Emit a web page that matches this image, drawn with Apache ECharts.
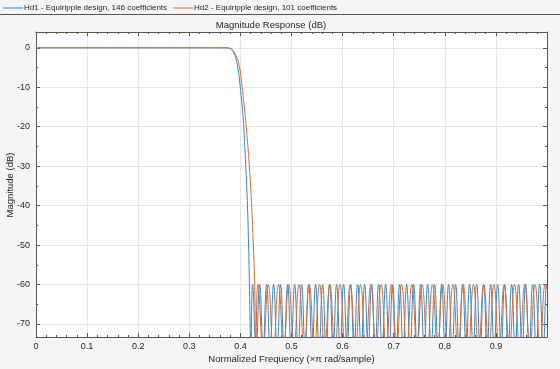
<!DOCTYPE html>
<html><head><meta charset="utf-8">
<script src="https://cdn.jsdelivr.net/npm/echarts@6/dist/echarts.min.js"></script>
<style>html,body{margin:0;padding:0;background:#f5f5f5}#c{width:560px;height:369px}</style>
</head><body><div id="c"></div><script>
const seriesNames = ['Hd1 - Equiripple design, 146 coefficients', 'Hd2 - Equiripple design, 101 coefficients'];
const xTickLabels = ['0','0.1','0.2','0.3','0.4','0.5','0.6','0.7','0.8','0.9'];
const yTickValues = [-70,-60,-50,-40,-30,-20,-10,0];

// Hd1 (146 coefficients): passband + transition
const hd1PassFreq = [0, 0.1, 0.2, 0.3, 0.37, 0.377, 0.382, 0.387, 0.3933, 0.3998, 0.4035, 0.4065, 0.4105, 0.4138, 0.416, 0.4177];
const hd1PassMag  = [0, 0, 0, 0, 0, -0.1, -0.4, -1.3, -3.8, -10, -15, -20, -30, -40, -50, -60];
// Hd1 stopband lobe peaks and nulls
const hd1PeakFreq = [0.4239,0.4376,0.4513,0.4650,0.4787,0.4924,0.5061,0.5198,0.5335,0.5472,0.5609,0.5746,0.5883,0.6020,0.6157,0.6294,0.6431,0.6568,0.6705,0.6842,0.6979,0.7116,0.7253,0.7390,0.7527,0.7664,0.7801,0.7938,0.8075,0.8212,0.8349,0.8486,0.8623,0.8760,0.8897,0.9034,0.9171,0.9308,0.9445,0.9582,0.9719,0.9856,0.9993];
const hd1NullFreq = [0.4205,0.4308,0.4445,0.4582,0.4719,0.4856,0.4993,0.5130,0.5267,0.5404,0.5541,0.5678,0.5815,0.5952,0.6089,0.6226,0.6363,0.6500,0.6637,0.6774,0.6911,0.7048,0.7185,0.7322,0.7459,0.7596,0.7733,0.7870,0.8007,0.8144,0.8281,0.8418,0.8555,0.8692,0.8829,0.8966,0.9103,0.9240,0.9377,0.9514,0.9651,0.9788,0.9925];
const hd1EndFreq = [1.0];
const hd1EndMag = [-60.05];

// Hd2 (101 coefficients): passband + transition
const hd2PassFreq = [0, 0.1, 0.2, 0.3, 0.372, 0.379, 0.384, 0.3887, 0.3965, 0.4035, 0.4076, 0.4115, 0.4175, 0.422, 0.4253, 0.428];
const hd2PassMag  = [0, 0, 0, 0, 0, -0.1, -0.4, -1.3, -3.8, -10, -15, -20, -30, -40, -50, -60];
const hd2PeakFreq = [0.4344,0.4545,0.4746,0.4946,0.5147,0.5348,0.5549,0.5750,0.5950,0.6151,0.6352,0.6553,0.6754,0.6954,0.7155,0.7356,0.7557,0.7758,0.7958,0.8159,0.8360,0.8561,0.8762,0.8962,0.9163,0.9364,0.9565,0.9766,0.9966];
const hd2NullFreq = [0.4300,0.4444,0.4645,0.4846,0.5047,0.5248,0.5448,0.5649,0.5850,0.6051,0.6252,0.6452,0.6653,0.6854,0.7055,0.7256,0.7456,0.7657,0.7858,0.8059,0.8260,0.8460,0.8661,0.8862,0.9063,0.9264,0.9464,0.9665,0.9866];
const hd2EndFreq = [1.0];
const hd2EndMag = [-61.2];

const stopPeakMag = -60;   // equiripple stopband level
const nullMag = -76;       // null depth (below visible range)

function build(passF, passM, peakF, nullF, endF, endM) {
  const pts = passF.map((f, i) => [f, passM[i]]);
  peakF.forEach(f => pts.push([f, stopPeakMag]));
  nullF.forEach(f => pts.push([f, nullMag]));
  endF.forEach((f, i) => pts.push([f, endM[i]]));
  pts.sort((a, b) => a[0] - b[0]);
  return pts;
}
const hd1Data = build(hd1PassFreq, hd1PassMag, hd1PeakFreq, hd1NullFreq, hd1EndFreq, hd1EndMag);
const hd2Data = build(hd2PassFreq, hd2PassMag, hd2PeakFreq, hd2NullFreq, hd2EndFreq, hd2EndMag);

const FONT = 'Liberation Sans, Arial, Helvetica, sans-serif';
const TXT = '#262626';
const AX = '#555555';
const BLUE = '#3189d0';
const ORANGE = '#dd6a30';
const chart = echarts.init(document.getElementById('c'), null, {renderer: 'canvas'});
const tickCommon = {show: true, inside: true, length: 4, lineStyle: {color: AX}};
const minorCommon = {show: true, length: 2, lineStyle: {color: AX}};
chart.setOption({
  backgroundColor: '#f5f5f5',
  animation: false,
  textStyle: {fontFamily: FONT},
  legend: {
    left: 3, top: 2, padding: [2, 0, 2, 0], itemWidth: 20, itemHeight: 1, icon: 'rect', itemGap: 6,
    textStyle: {fontSize: 8, color: TXT, fontFamily: FONT, padding: [0, 0, 0, -4]},
    data: seriesNames
  },
  graphic: [
    {type: 'line', shape: {x1: 0, y1: 14.5, x2: 560, y2: 14.5}, style: {stroke: '#555555', lineWidth: 1}},
    {type: 'text', x: 271, y: 25, style: {text: 'Magnitude Response (dB)', fontSize: 9.5, fill: TXT, fontFamily: FONT, textAlign: 'center', textVerticalAlign: 'middle'}},
    {type: 'text', x: 10, y: 185, rotation: Math.PI / 2, style: {text: 'Magnitude (dB)', fontSize: 9.5, fill: TXT, fontFamily: FONT, textAlign: 'center', textVerticalAlign: 'middle'}}
  ],
  grid: {left: 36, right: 13, top: 32, bottom: 32, containLabel: false, outerBoundsMode: 'none',
         show: true, backgroundColor: '#ffffff', borderWidth: 0},
  xAxis: [
    {type: 'value', min: 0, max: 1, interval: 0.1, position: 'bottom',
     axisLine: {onZero: false, lineStyle: {color: AX}},
     axisTick: tickCommon, minorTick: Object.assign({splitNumber: 5}, minorCommon),
     splitLine: {show: true, lineStyle: {color: '#e6e6e6'}},
     axisLabel: {color: TXT, fontSize: 9, margin: 5, showMaxLabel: false,
       formatter: v => { const i = Math.round(v * 10); return i < xTickLabels.length ? xTickLabels[i] : ''; }},
     name: 'Normalized Frequency (\u00d7\u03c0 rad/sample)', nameLocation: 'middle', nameGap: 17, nameMoveOverlap: false,
     nameTextStyle: {fontSize: 9.5, color: TXT, fontFamily: FONT}},
    {type: 'value', min: 0, max: 1, interval: 0.1, position: 'top',
     axisLine: {onZero: false, lineStyle: {color: AX}},
     axisTick: tickCommon, minorTick: Object.assign({splitNumber: 5}, minorCommon),
     splitLine: {show: false}, axisLabel: {show: false}}
  ],
  yAxis: [
    {type: 'value', min: -73.3, max: 4, splitNumber: 8, position: 'left',
     axisLine: {show: true, onZero: false, lineStyle: {color: AX}},
     axisTick: tickCommon, minorTick: Object.assign({splitNumber: 2}, minorCommon),
     splitLine: {show: true, lineStyle: {color: '#e6e6e6'}},
     axisLabel: {color: TXT, fontSize: 9, margin: 6, showMinLabel: false, showMaxLabel: false,
       formatter: v => (yTickValues.indexOf(Math.round(v)) >= 0 && Math.abs(v - Math.round(v)) < 1e-6) ? String(Math.round(v)) : ''}},
    {type: 'value', min: -73.3, max: 4, splitNumber: 8, position: 'right',
     axisLine: {show: true, onZero: false, lineStyle: {color: AX}},
     axisTick: tickCommon, minorTick: Object.assign({splitNumber: 2}, minorCommon),
     splitLine: {show: false}, axisLabel: {show: false}}
  ],
  series: [
    {name: seriesNames[0], type: 'line', data: hd1Data, xAxisIndex: 0, yAxisIndex: 0,
     showSymbol: false, symbol: 'none', smooth: 0.5, clip: true,
     lineStyle: {color: BLUE, width: 1}, itemStyle: {color: BLUE}},
    {name: seriesNames[1], type: 'line', data: hd2Data, xAxisIndex: 0, yAxisIndex: 0,
     showSymbol: false, symbol: 'none', smooth: 0.5, clip: true,
     lineStyle: {color: ORANGE, width: 1}, itemStyle: {color: ORANGE}}
  ]
});
</script></body></html>
